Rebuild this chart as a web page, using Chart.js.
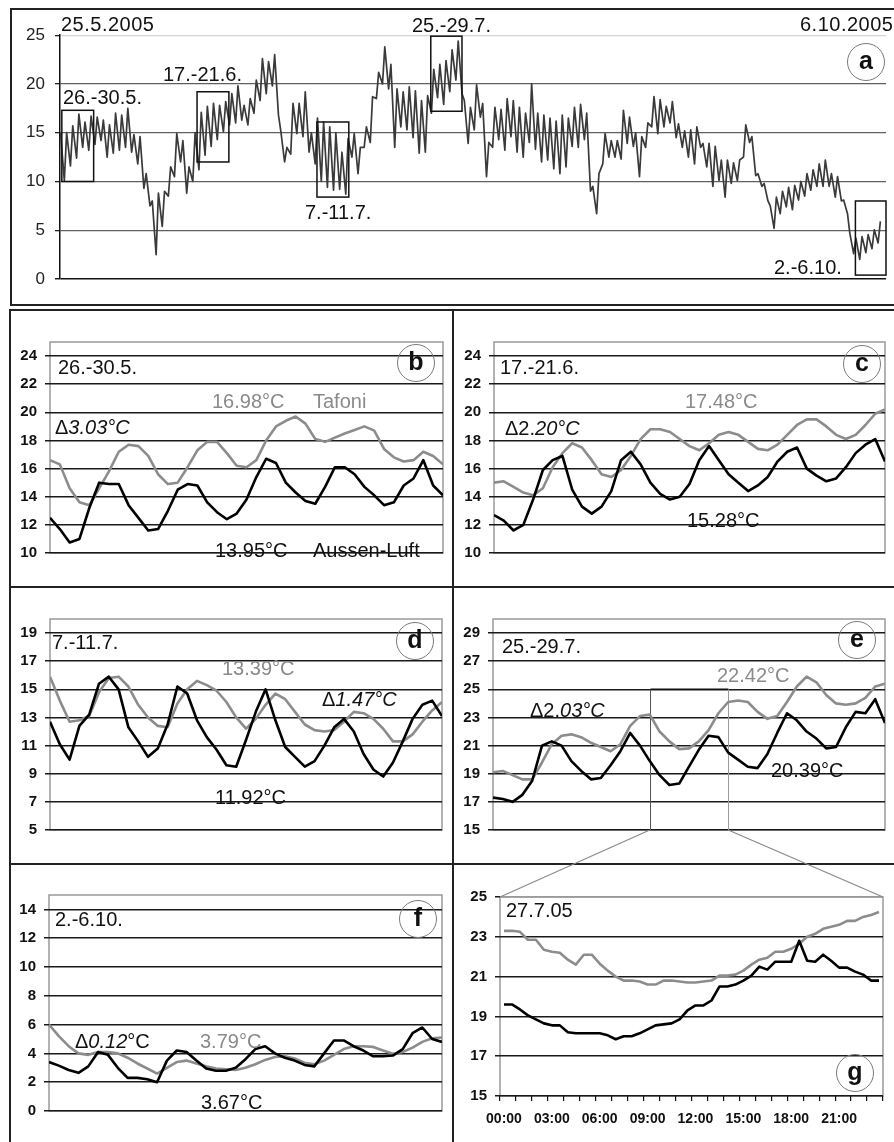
<!DOCTYPE html>
<html>
<head>
<meta charset="utf-8">
<title>Tafoni / Aussen-Luft 2005</title>
<script src="https://cdn.jsdelivr.net/npm/chart.js"></script>
<style>
  html, body { margin: 0; padding: 0; background: #fff; }
  #page { position: relative; width: 894px; height: 1142px; overflow: hidden;
          font-family: "Liberation Sans", Arial, sans-serif; }
  canvas { position: absolute; }
  .frame { position: absolute; box-sizing: border-box; border: 2px solid #222; }
  .hl { position: absolute; height: 2px; background: #222; }
  .vl { position: absolute; width: 2px; background: #222; }
  .t { position: absolute; white-space: nowrap; font-size: 20px; line-height: 20px; color: #111; }
  .t.grey { color: #8a8a8a; }
  .t.date { letter-spacing: 0.5px; }
  .badge { position: absolute; width: 38px; height: 38px; box-sizing: border-box;
           border: 1.5px solid #7a7a7a; border-radius: 50%; text-align: center;
           font-weight: bold; font-size: 25px; line-height: 33px; color: #111; }
  #links { pointer-events: none; }
</style>
</head>
<body>
<div id="page">
  <!-- panel frames -->
  <div class="frame" style="left:10px;top:8px;width:900px;height:298px"></div>
  <div class="frame" style="left:9px;top:309px;width:900px;height:900px"></div>
  <div class="vl" style="left:452px;top:309px;height:840px"></div>
  <div class="hl" style="left:9px;top:586px;width:890px"></div>
  <div class="hl" style="left:9px;top:863px;width:890px"></div>

  <canvas id="cA" width="889" height="285" style="left:5px;top:15px"></canvas>
  <canvas id="cB" width="443" height="245" style="left:5px;top:325px"></canvas>
  <canvas id="cC" width="443" height="245" style="left:449px;top:325px"></canvas>
  <canvas id="cD" width="443" height="245" style="left:5px;top:602px"></canvas>
  <canvas id="cE" width="443" height="245" style="left:449px;top:602px"></canvas>
  <canvas id="cF" width="443" height="250" style="left:5px;top:878px"></canvas>
  <canvas id="cG" width="437" height="262" style="left:455px;top:880px"></canvas>
  <canvas id="links" width="894" height="1142" style="left:0;top:0"></canvas>

  <!-- panel a -->
  <div class="t date" style="left:61px;top:14px">25.5.2005</div>
  <div class="t date" style="left:800px;top:14px">6.10.2005</div>
  <div class="t" style="left:63px;top:87px">26.-30.5.</div>
  <div class="t" style="left:163px;top:64px">17.-21.6.</div>
  <div class="t" style="left:305px;top:202px">7.-11.7.</div>
  <div class="t" style="left:412px;top:15px">25.-29.7.</div>
  <div class="t" style="left:774px;top:257px">2.-6.10.</div>
  <div class="badge" style="left:847px;top:43px">a</div>

  <!-- panel b -->
  <div class="t" style="left:58px;top:357px">26.-30.5.</div>
  <div class="t grey" style="left:212px;top:391px">16.98°C</div>
  <div class="t grey" style="left:313px;top:391px">Tafoni</div>
  <div class="t" style="left:55px;top:417px">Δ<i>3.03°C</i></div>
  <div class="t" style="left:215px;top:540px">13.95°C</div>
  <div class="t" style="left:313px;top:540px">Aussen-Luft</div>
  <div class="badge" style="left:397px;top:344px">b</div>

  <!-- panel c -->
  <div class="t" style="left:500px;top:357px">17.-21.6.</div>
  <div class="t grey" style="left:685px;top:391px">17.48°C</div>
  <div class="t" style="left:505px;top:418px">Δ2.<i>20°C</i></div>
  <div class="t" style="left:687px;top:510px">15.28°C</div>
  <div class="badge" style="left:843px;top:345px">c</div>

  <!-- panel d -->
  <div class="t" style="left:52px;top:632px">7.-11.7.</div>
  <div class="t grey" style="left:222px;top:658px">13.39°C</div>
  <div class="t" style="left:322px;top:689px">Δ<i>1.47°C</i></div>
  <div class="t" style="left:215px;top:787px">11.92°C</div>
  <div class="badge" style="left:396px;top:622px">d</div>

  <!-- panel e -->
  <div class="t" style="left:502px;top:636px">25.-29.7.</div>
  <div class="t grey" style="left:717px;top:665px">22.42°C</div>
  <div class="t" style="left:530px;top:700px">Δ2.<i>03°C</i></div>
  <div class="t" style="left:771px;top:760px">20.39°C</div>
  <div class="badge" style="left:838px;top:621px">e</div>

  <!-- panel f -->
  <div class="t" style="left:55px;top:909px">2.-6.10.</div>
  <div class="t" style="left:75px;top:1031px">Δ<i>0.12</i>°C</div>
  <div class="t grey" style="left:200px;top:1031px">3.79°C</div>
  <div class="t" style="left:201px;top:1092px">3.67°C</div>
  <div class="badge" style="left:399px;top:900px">f</div>

  <!-- panel g -->
  <div class="t" style="left:506px;top:900px">27.7.05</div>
  <div class="badge" style="left:836px;top:1054px">g</div>
</div>

<script>
// ---------- Overview 25.5.–6.10.2005: daily minimum (early morning) and maximum (afternoon) ----------
const aMin = [null,10.1,11.6,12.4,13.5,13.2,13.8,14.2,12.5,12.9,
  13.2,13.5,13.0,11.8,9.3,7.5,2.5,5.4,8.5,10.5,
  12.0,8.8,10.0,11.2,12.7,13.6,14.3,15.1,15.8,16.0,
  16.3,15.8,17.0,18.3,19.0,19.8,16.8,12.0,12.8,14.9,
  14.6,13.0,11.8,10.0,9.4,9.1,9.2,8.7,12.5,10.8,
  13.5,14.0,18.5,20.0,19.5,13.5,15.6,15.3,14.5,12.9,
  13.0,17.0,18.6,17.9,19.2,20.4,19.0,13.9,15.3,16.6,
  10.5,13.5,14.3,13.2,14.6,13.0,12.5,14.0,13.3,12.0,
  12.2,11.3,10.8,11.5,13.6,13.5,14.3,9.0,6.7,11.8,
  12.5,12.5,12.3,13.9,13.6,10.5,13.5,15.6,14.9,15.6,
  16.0,14.5,13.5,12.5,11.8,13.5,11.5,9.5,10.1,8.4,
  9.8,10.1,12.5,14.0,10.6,9.5,8.0,5.2,6.7,7.4,
  7.1,8.1,8.5,9.1,9.5,9.5,9.5,8.4,8.0,6.7,
  2.6,2.0,2.7,3.1,3.7];
const aMax = [15.0,15.0,15.7,16.9,16.1,16.7,16.6,16.3,15.8,17.0,
  16.8,17.5,14.8,14.6,10.8,8.0,8.8,9.0,11.5,14.9,
  14.2,11.5,15.0,17.1,17.7,18.0,17.8,18.2,19.0,19.8,
  17.8,18.5,20.4,22.6,22.3,23.0,15.2,13.5,18.0,18.0,
  19.2,15.0,16.5,16.1,15.6,15.0,13.0,14.4,14.9,13.5,
  15.6,18.7,21.2,23.8,22.0,19.5,19.2,19.7,19.3,18.3,
  18.8,21.5,22.0,22.4,23.5,24.4,18.3,17.6,19.9,18.0,
  14.0,17.6,17.4,18.5,18.3,17.6,17.0,20.0,17.0,16.8,
  16.5,16.2,16.8,16.5,17.6,17.9,17.0,9.5,10.8,14.9,
  14.2,14.2,17.3,16.6,15.0,14.6,16.0,18.7,18.4,17.7,
  18.2,15.9,15.2,15.3,15.6,13.9,13.9,13.6,12.2,12.2,
  11.9,12.2,15.8,14.6,10.8,9.8,7.5,8.4,9.0,9.4,
  9.6,10.0,10.8,11.2,11.8,12.2,10.8,10.5,8.1,4.7,
  4.2,4.35,4.55,5.05,5.9];
const aTicks = [0, 5, 10, 15, 20, 25];
// highlighted five-day windows (axis days since start of record, °C range)
const winStart = [0.3, 22.4, 42.0, 60.6, 130.0];
const winEnd   = [5.5, 27.6, 47.2, 65.7, 135.0];
const winLow   = [10.0, 12.0, 8.4, 17.2, 0.4];
const winHigh  = [17.3, 19.2, 16.1, 24.9, 8.0];

// ---------- five-day windows, three-hourly values ----------
const bAir    = [12.5,11.7,10.75,11.0,13.2,15.0,14.9,14.9,13.4,12.5,11.6,11.7,13.0,14.5,14.9,14.8,13.6,12.9,12.4,12.8,13.8,15.4,16.7,16.4,15.0,14.3,13.7,13.5,14.7,16.1,16.1,15.6,14.7,14.1,13.4,13.6,14.8,15.3,16.6,14.8,14.1];
const bTafoni = [16.6,16.3,14.6,13.6,13.4,14.6,15.8,17.2,17.7,17.6,16.9,15.6,14.9,15.0,16.1,17.3,17.9,17.9,17.1,16.2,16.1,16.6,18.0,19.0,19.4,19.7,19.2,18.1,17.9,18.2,18.5,18.75,19.0,18.7,17.4,16.8,16.5,16.6,17.2,16.9,16.3];
const cAir    = [12.7,12.3,11.6,12.0,13.8,15.9,16.6,16.9,14.5,13.3,12.8,13.3,14.4,16.6,17.2,16.3,15.0,14.2,13.8,14.0,14.9,16.6,17.6,16.6,15.6,15.0,14.4,14.8,15.4,16.5,17.2,17.5,16.0,15.5,15.1,15.3,16.1,17.1,17.7,18.1,16.5];
const cTafoni = [15.0,15.1,14.7,14.3,14.1,14.6,16.1,17.1,17.8,17.5,16.6,15.6,15.4,15.9,16.9,18.1,18.8,18.8,18.6,18.1,17.6,17.3,17.8,18.4,18.6,18.4,17.9,17.4,17.3,17.7,18.4,19.1,19.5,19.5,19.0,18.4,18.1,18.4,19.1,19.9,20.2];
const dAir    = [12.7,11.1,10.0,12.4,13.2,15.4,15.9,15.0,12.3,11.3,10.2,10.8,12.5,15.2,14.7,12.8,11.6,10.7,9.6,9.5,11.4,13.4,15.0,12.8,10.9,10.2,9.5,9.9,11.0,12.3,12.9,12.0,10.4,9.3,8.8,9.8,11.3,12.9,13.9,14.2,13.1];
const dTafoni = [15.9,14.2,12.7,12.8,13.1,14.8,15.8,15.9,15.2,13.9,13.0,12.4,12.3,14.0,15.0,15.6,15.3,14.9,14.1,13.0,12.2,12.9,13.9,14.7,14.3,13.4,12.5,12.1,12.0,12.1,12.7,13.4,13.3,12.9,12.2,11.3,11.3,11.8,12.7,13.5,14.1];
const eAir    = [17.3,17.2,17.0,17.5,18.5,21.0,21.3,21.0,19.9,19.2,18.6,18.7,19.6,20.6,21.9,21.0,19.9,18.9,18.2,18.3,19.5,20.7,21.7,21.6,20.5,20.0,19.5,19.4,20.4,21.9,23.3,22.8,22.0,21.5,20.8,20.9,22.3,23.4,23.3,24.3,22.6];
const eTafoni = [19.1,19.2,18.9,18.6,18.6,19.8,21.1,21.7,21.8,21.6,21.2,20.9,20.6,21.1,22.4,23.1,23.2,22.0,21.3,20.75,20.8,21.3,22.1,23.3,24.1,24.2,24.1,23.4,22.9,23.1,24.1,25.2,25.9,25.5,24.6,24.0,23.9,24.0,24.4,25.2,25.4];
const fAir    = [3.4,3.15,2.85,2.65,3.1,4.1,3.9,3.0,2.3,2.3,2.2,2.0,3.5,4.2,4.1,3.5,2.95,2.8,2.8,3.0,3.6,4.3,4.5,4.0,3.7,3.5,3.2,3.1,4.0,4.9,4.9,4.5,4.2,3.8,3.8,3.85,4.3,5.4,5.8,5.0,4.8];
const fTafoni = [6.0,5.2,4.5,4.0,3.9,4.1,4.1,4.0,3.7,3.3,2.95,2.6,3.0,3.4,3.5,3.3,3.1,2.95,2.9,2.85,3.0,3.25,3.55,3.75,3.8,3.65,3.35,3.25,3.5,3.9,4.3,4.5,4.5,4.45,4.2,3.97,4.1,4.4,4.8,5.05,5.1];
const bTicks = [10, 12, 14, 16, 18, 20, 22, 24];
const dTicks = [5, 7, 9, 11, 13, 15, 17, 19];
const eTicks = [15, 17, 19, 21, 23, 25, 27, 29];
const fTicks = [0, 2, 4, 6, 8, 10, 12, 14];

// ---------- 27.7.2005, half-hourly ----------
const gTimes = [];
for (let h = 0; h < 24; h++) {
  const hh = String(h).padStart(2, '0');
  gTimes.push(hh + ':00', hh + ':30');
}
const gAir = [19.6,19.6,19.35,19.05,18.85,18.65,18.55,18.55,18.2,18.15,
  18.15,18.15,18.15,18.05,17.85,18.0,18.0,18.15,18.35,18.55,
  18.6,18.65,18.85,19.3,19.55,19.55,19.8,20.5,20.5,20.6,
  20.8,21.05,21.5,21.35,21.75,21.75,21.75,22.8,21.8,21.75,
  22.1,21.8,21.45,21.45,21.25,21.1,20.8,20.8];
const gTafoni = [23.3,23.3,23.25,22.85,22.85,22.35,22.25,22.2,21.85,21.6,
  22.1,22.1,21.65,21.3,21.0,20.8,20.8,20.75,20.6,20.6,
  20.8,20.8,20.75,20.7,20.7,20.75,20.8,21.05,21.05,21.1,
  21.3,21.6,21.85,21.95,22.25,22.25,22.4,22.65,23.0,23.15,
  23.4,23.5,23.6,23.8,23.8,24.0,24.1,24.25];
const gTicks = [15, 17, 19, 21, 23, 25];
const ZOOM_DAY = 2;          // 27.7. is the third day of the 25.-29.7. window
const G_MIN = 15, G_MAX = 25;

// ---------- drawing ----------
const FONT = '"Liberation Sans", Arial, sans-serif';
Chart.defaults.font.family = FONT;
Chart.defaults.color = '#111';

const BLACK = '#000000', GREY = '#8c8c8c', GRID = '#1a1a1a';
const STEP = 1 / 8;          // three hours in days
const MIN_HOUR = 7, MAX_HOUR = 16, START_HOUR = 14;

const airPoints = [];
for (let k = 0; k < aMax.length; k++) {
  if (aMin[k] !== null) airPoints.push({ x: k + (MIN_HOUR - START_HOUR) / 24, y: aMin[k] });
  airPoints.push({ x: k + (MAX_HOUR - START_HOUR) / 24, y: aMax[k] });
}
const series = vals => vals.map((v, i) => ({ x: i * STEP, y: v }));

const baseOptions = (padding) => ({
  responsive: false, animation: false, devicePixelRatio: 1,
  layout: { padding, autoPadding: false },
  plugins: { legend: { display: false }, tooltip: { enabled: false } },
  elements: { point: { radius: 0 }, line: { tension: 0, borderJoinStyle: 'round' } },
});

const plotFrame = {
  id: 'plotFrame',
  beforeDraw(chart) {
    const a = chart.chartArea, c = chart.ctx;
    c.save();
    c.strokeStyle = '#9a9a9a'; c.lineWidth = 1.5;
    c.strokeRect(a.left, a.top, a.right - a.left, a.bottom - a.top);
    c.restore();
  }
};

const windowBoxes = {
  id: 'windowBoxes',
  afterDatasetsDraw(chart) {
    const x = chart.scales.x, y = chart.scales.y, c = chart.ctx;
    c.save();
    c.strokeStyle = '#111'; c.lineWidth = 1.5;
    for (let i = 0; i < winStart.length; i++) {
      const l = x.getPixelForValue(winStart[i]), r = x.getPixelForValue(winEnd[i]);
      const t = y.getPixelForValue(winHigh[i]), b = y.getPixelForValue(winLow[i]);
      c.strokeRect(l, t, r - l, b - t);
    }
    c.restore();
  }
};

const dayBox = {
  id: 'dayBox',
  beforeDatasetsDraw(chart) {
    const x = chart.scales.x, y = chart.scales.y, c = chart.ctx;
    const l = Math.round(x.getPixelForValue(ZOOM_DAY)) + 0.5;
    const r = Math.round(x.getPixelForValue(ZOOM_DAY + 1)) + 0.5;
    const t = y.getPixelForValue(G_MAX), b = y.getPixelForValue(G_MIN);
    c.save();
    c.lineWidth = 1;
    c.strokeStyle = '#555';
    c.beginPath(); c.moveTo(l, b); c.lineTo(l, t); c.stroke();
    c.strokeStyle = '#111'; c.lineWidth = 1.5;
    c.beginPath(); c.moveTo(l, t); c.lineTo(r, t); c.stroke();
    c.strokeStyle = '#9a9a9a'; c.lineWidth = 1;
    c.beginPath(); c.moveTo(r, t); c.lineTo(r, b); c.stroke();
    c.restore();
  }
};

function yAxis(ticks, min, max, size, gridColor) {
  return {
    min, max,
    afterBuildTicks: s => { s.ticks = ticks.map(v => ({ value: v })); },
    afterFit: s => { s.width = 40; },
    ticks: { color: '#111', font: { size, weight: 'bold' }, padding: 8 },
    grid: { color: gridColor || GRID, lineWidth: 1.5, tickLength: 5, tickColor: GRID },
    border: { display: false }
  };
}

function windowChart(id, air, tafoni, ticks, min, max, padding, extra) {
  return new Chart(document.getElementById(id), {
    type: 'line',
    data: { datasets: [
      { data: series(air), borderColor: BLACK, borderWidth: 2.6 },
      { data: series(tafoni), borderColor: GREY, borderWidth: 2.6 }
    ] },
    options: Object.assign(baseOptions(padding), {
      scales: {
        x: { type: 'linear', min: 0, max: 5, display: false },
        y: yAxis(ticks, min, max, 15)
      }
    }),
    plugins: [plotFrame].concat(extra || [])
  });
}

// a: overview
new Chart(document.getElementById('cA'), {
  type: 'line',
  data: { datasets: [{ data: airPoints, borderColor: '#3a3a3a', borderWidth: 1.7 }] },
  options: Object.assign(baseOptions({ left: 10, top: 20, right: 8, bottom: 21 }), {
    scales: {
      x: { type: 'linear', min: 0, max: 135, display: false },
      y: {
        min: 0, max: 25,
        afterBuildTicks: s => { s.ticks = aTicks.map(v => ({ value: v })); },
        afterFit: s => { s.width = 45; },
        ticks: { color: '#222', font: { size: 17 }, padding: 10 },
        grid: {
          color: ctx => ctx.tick.value === 0 ? '#111' : (ctx.tick.value === 25 ? '#d4d4d4' : '#606060'),
          lineWidth: ctx => ctx.tick.value === 0 ? 1.5 : 1.3,
          tickLength: 5, tickColor: '#222'
        },
        border: { display: true, color: '#111', width: 1.5 }
      }
    }
  }),
  plugins: [windowBoxes]
});

windowChart('cB', bAir, bTafoni, bTicks, 10, 25, { left: 5, top: 10, right: 5, bottom: 7 });
windowChart('cC', cAir, cTafoni, bTicks, 10, 25, { left: 5, top: 10, right: 7, bottom: 7 });
windowChart('cD', dAir, dTafoni, dTicks, 5, 20, { left: 5, top: 10, right: 6, bottom: 7 });
const chartE = windowChart('cE', eAir, eTafoni, eTicks, 15, 30, { left: 4, top: 10, right: 7, bottom: 7 }, [dayBox]);
windowChart('cF', fAir, fTafoni, fTicks, 0, 15, { left: 4, top: 10, right: 6, bottom: 7 });

// g: one day in detail
const hourMark = ctx => (ctx.index === undefined || ctx.index % 2 === 0) ? '#111' : 'rgba(0,0,0,0)';
const chartG = new Chart(document.getElementById('cG'), {
  type: 'line',
  data: { labels: gTimes, datasets: [
    { data: gAir, borderColor: BLACK, borderWidth: 2.6 },
    { data: gTafoni, borderColor: GREY, borderWidth: 2.6 }
  ] },
  options: Object.assign(baseOptions({ left: 5, top: 12, right: 9, bottom: 6 }), {
    scales: {
      x: {
        type: 'category', offset: true,
        afterFit: s => { s.height = 40; },
        grid: { offset: true, drawOnChartArea: false, tickLength: 5, lineWidth: 1.2, color: hourMark, tickColor: hourMark },
        border: { display: false },
        ticks: {
          autoSkip: false, maxRotation: 0, minRotation: 0, padding: 10,
          color: '#111', font: { size: 14, weight: 'bold' },
          callback: (v, i) => (i % 6 === 0 ? gTimes[i] : '')
        }
      },
      y: yAxis(gTicks, G_MIN, G_MAX, 15, ctx => ctx.tick.value === G_MAX ? '#9a9a9a' : GRID)
    }
  }),
  plugins: [plotFrame]
});

// zoom lines from the 27.7. box in panel e to panel g
(function drawLinks() {
  const cvE = document.getElementById('cE'), cvG = document.getElementById('cG');
  const ex = chartE.scales.x, ey = chartE.scales.y, ga = chartG.chartArea;
  const c = document.getElementById('links').getContext('2d');
  const p1 = [cvE.offsetLeft + ex.getPixelForValue(ZOOM_DAY), cvE.offsetTop + ey.getPixelForValue(G_MIN)];
  const p2 = [cvE.offsetLeft + ex.getPixelForValue(ZOOM_DAY + 1), cvE.offsetTop + ey.getPixelForValue(G_MIN)];
  const q1 = [cvG.offsetLeft + ga.left, cvG.offsetTop + ga.top];
  const q2 = [cvG.offsetLeft + ga.right, cvG.offsetTop + ga.top];
  c.strokeStyle = '#8a8a8a'; c.lineWidth = 1.2;
  c.beginPath(); c.moveTo(p1[0], p1[1]); c.lineTo(q1[0], q1[1]); c.stroke();
  c.beginPath(); c.moveTo(p2[0], p2[1]); c.lineTo(q2[0], q2[1]); c.stroke();
})();
</script>
</body>
</html>
